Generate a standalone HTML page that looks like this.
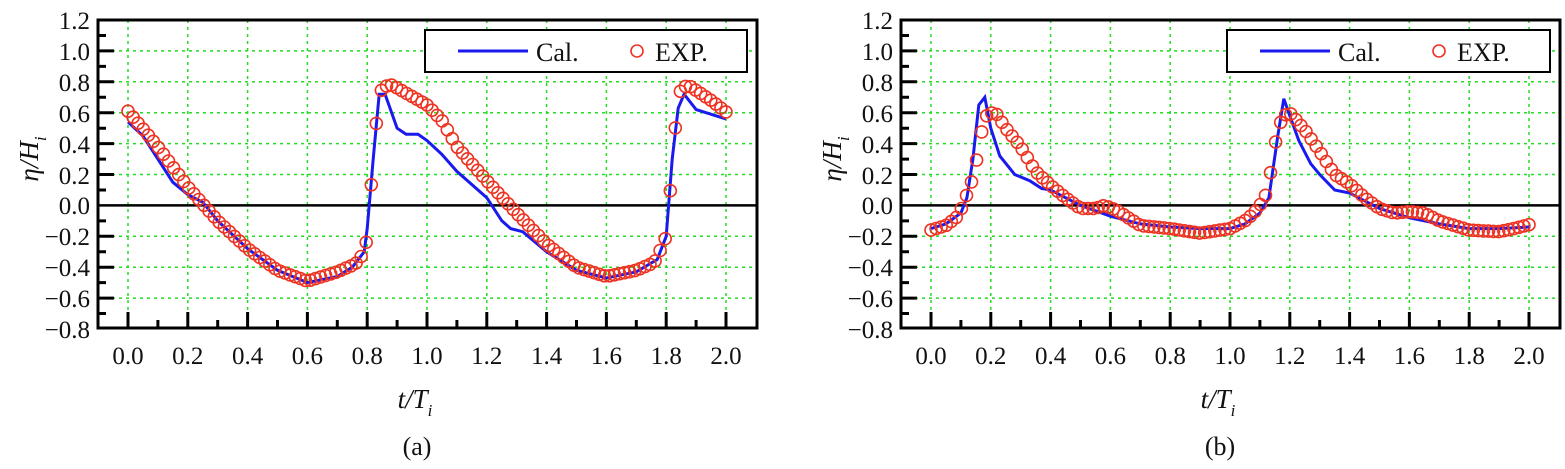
<!DOCTYPE html>
<html><head><meta charset="utf-8"><style>
html,body{margin:0;padding:0;background:#fff;width:1565px;height:469px;overflow:hidden}
text{font-family:"Liberation Serif","DejaVu Serif",serif;fill:#111}
.t{font-size:25px}
.l{font-size:26px}
.i{font-size:27px;font-style:italic}
</style></head><body>
<svg width="1565" height="469" xmlns="http://www.w3.org/2000/svg">
<defs>
<g id="ax">
<g stroke="#22dd22" stroke-width="1.5" stroke-dasharray="3,4">
<path d="M98 50.9H757M98 81.8H757M98 112.7H757M98 143.6H757M98 174.5H757M98 236.3H757M98 267.2H757M98 298.1H757"/>
<path d="M128 20V310M187.8 20V310M247.6 20V310M307.4 20V310M367.2 20V310M427 20V310M486.8 20V310M546.6 20V310M606.4 20V310M666.2 20V310M726 20V310"/>
</g>
<path d="M98 205.4H757" stroke="#000" stroke-width="2.5"/>
<path stroke="#000" stroke-width="3" d="M98 313.5h8M98 298.1h16M98 282.6h8M98 267.2h16M98 251.7h8M98 236.3h16M98 220.9h8M98 190h8M98 174.5h16M98 159.1h8M98 143.6h16M98 128.2h8M98 112.7h16M98 97.3h8M98 81.8h16M98 66.4h8M98 50.9h16M98 35.5h8
M128 328v-16M157.9 328v-8M187.8 328v-16M217.7 328v-8M247.6 328v-16M277.5 328v-8M307.4 328v-16M337.3 328v-8M367.2 328v-16M397.1 328v-8M427 328v-16M456.9 328v-8M486.8 328v-16M516.7 328v-8M546.6 328v-16M576.5 328v-8M606.4 328v-16M636.3 328v-8M666.2 328v-16M696.1 328v-8M726 328v-16"/>
<rect x="98" y="20" width="659" height="308" fill="none" stroke="#000" stroke-width="3"/>
</g>
</defs>
<use href="#ax"/>
<use href="#ax" transform="translate(803,0)"/>
<g id="series"></g>
<!-- legends -->
<rect x="425" y="30" width="322" height="42" fill="#fff" stroke="#000" stroke-width="2"/>
<line x1="458" x2="528" y1="51" y2="51" stroke="#1a1aee" stroke-width="3"/>
<circle cx="637" cy="51" r="6" fill="none" stroke="#ee3322" stroke-width="1.6"/>
<text class="l" x="536" y="61">Cal.</text>
<text class="l" x="655" y="61">EXP.</text>
<rect x="1227" y="30" width="323" height="42" fill="#fff" stroke="#000" stroke-width="2"/>
<line x1="1260" x2="1330" y1="51" y2="51" stroke="#1a1aee" stroke-width="3"/>
<circle cx="1439" cy="51" r="6" fill="none" stroke="#ee3322" stroke-width="1.6"/>
<text class="l" x="1338" y="61">Cal.</text>
<text class="l" x="1457" y="61">EXP.</text>
<!-- y labels a -->
<g class="t" text-anchor="end">
<text class="t" x="90" y="29">1.2</text><text class="t" x="90" y="60">1.0</text><text class="t" x="90" y="91">0.8</text><text class="t" x="90" y="122">0.6</text><text class="t" x="90" y="153">0.4</text><text class="t" x="90" y="184">0.2</text><text class="t" x="90" y="214">0.0</text><text class="t" x="90" y="245">−0.2</text><text class="t" x="90" y="276">−0.4</text><text class="t" x="90" y="307">−0.6</text><text class="t" x="90" y="338">−0.8</text>
<text class="t" x="893" y="29">1.2</text><text class="t" x="893" y="60">1.0</text><text class="t" x="893" y="91">0.8</text><text class="t" x="893" y="122">0.6</text><text class="t" x="893" y="153">0.4</text><text class="t" x="893" y="184">0.2</text><text class="t" x="893" y="214">0.0</text><text class="t" x="893" y="245">−0.2</text><text class="t" x="893" y="276">−0.4</text><text class="t" x="893" y="307">−0.6</text><text class="t" x="893" y="338">−0.8</text>
</g>
<g text-anchor="middle">
<text class="t" x="128" y="364">0.0</text><text class="t" x="187.8" y="364">0.2</text><text class="t" x="247.6" y="364">0.4</text><text class="t" x="307.4" y="364">0.6</text><text class="t" x="367.2" y="364">0.8</text><text class="t" x="427" y="364">1.0</text><text class="t" x="486.8" y="364">1.2</text><text class="t" x="546.6" y="364">1.4</text><text class="t" x="606.4" y="364">1.6</text><text class="t" x="666.2" y="364">1.8</text><text class="t" x="726" y="364">2.0</text>
<text class="t" x="931" y="364">0.0</text><text class="t" x="990.8" y="364">0.2</text><text class="t" x="1050.6" y="364">0.4</text><text class="t" x="1110.4" y="364">0.6</text><text class="t" x="1170.2" y="364">0.8</text><text class="t" x="1230" y="364">1.0</text><text class="t" x="1289.8" y="364">1.2</text><text class="t" x="1349.6" y="364">1.4</text><text class="t" x="1409.4" y="364">1.6</text><text class="t" x="1469.2" y="364">1.8</text><text class="t" x="1529" y="364">2.0</text>
<text class="i" x="415" y="408">t/T<tspan style="font-size:17px" dy="8">i</tspan></text>
<text class="i" x="1218" y="408">t/T<tspan style="font-size:17px" dy="8">i</tspan></text>
<text class="l" x="417" y="455">(a)</text>
<text class="l" x="1220" y="455">(b)</text>
<text class="i" transform="translate(38,159) rotate(-90)">η/H<tspan style="font-size:17px" dy="8">i</tspan></text>
<text class="i" transform="translate(841,159) rotate(-90)">η/H<tspan style="font-size:17px" dy="8">i</tspan></text>
</g>
</svg>
<script>
let h='';
function panel(x0,calc,exp){
 const X=t=>x0+t*299;const Y=v=>205.4-v*154.5;
 h+=`<polyline fill="none" stroke="#1a1aee" stroke-width="3" points="${calc.map(p=>X(p[0]).toFixed(1)+','+Y(p[1]).toFixed(1)).join(' ')}"/>`;
 const f=t=>{for(let i=0;i<exp.length-1;i++){if(t<=exp[i+1][0]){const a=exp[i],b=exp[i+1];return a[1]+(b[1]-a[1])*(t-a[0])/(b[0]-a[0]);}}return exp[exp.length-1][1];};
 const end=exp[exp.length-1][0];
 for(let t=0;t<=end+1e-6;t+=1/59){h+=`<circle cx="${X(t).toFixed(1)}" cy="${Y(f(t)).toFixed(1)}" r="6" fill="none" stroke="#ee3322" stroke-width="1.6"/>`;}
}
panel(128,
[[0,0.54],[0.05,0.45],[0.1,0.3],[0.15,0.15],[0.2,0.07],[0.25,0.02],[0.3,-0.1],[0.4,-0.28],[0.5,-0.42],[0.6,-0.5],[0.7,-0.46],[0.75,-0.4],[0.79,-0.3],[0.8,-0.15],[0.82,0.3],[0.84,0.72],[0.86,0.72],[0.9,0.5],[0.93,0.46],[0.97,0.46],[1.0,0.42],[1.05,0.33],[1.1,0.22],[1.2,0.05],[1.25,-0.1],[1.28,-0.15],[1.32,-0.17],[1.4,-0.3],[1.5,-0.42],[1.6,-0.47],[1.7,-0.43],[1.77,-0.35],[1.8,-0.2],[1.82,0.3],[1.84,0.63],[1.86,0.72],[1.9,0.62],[2.0,0.56]],
[[0,0.61],[0.1,0.38],[0.2,0.12],[0.3,-0.1],[0.4,-0.28],[0.5,-0.42],[0.6,-0.49],[0.7,-0.43],[0.76,-0.38],[0.78,-0.33],[0.8,-0.22],[0.81,0.05],[0.83,0.52],[0.84,0.73],[0.86,0.77],[0.88,0.78],[0.9,0.76],[1.0,0.65],[1.05,0.55],[1.1,0.38],[1.2,0.16],[1.3,-0.05],[1.4,-0.25],[1.5,-0.4],[1.6,-0.46],[1.7,-0.42],[1.76,-0.37],[1.78,-0.29],[1.8,-0.2],[1.81,0.01],[1.83,0.49],[1.84,0.72],[1.86,0.77],[1.88,0.77],[1.95,0.68],[2.01,0.59]]);
panel(931,
[[0,-0.15],[0.05,-0.12],[0.1,-0.05],[0.12,0.05],[0.14,0.3],[0.16,0.65],[0.18,0.7],[0.2,0.5],[0.23,0.32],[0.28,0.2],[0.33,0.16],[0.37,0.11],[0.4,0.1],[0.45,0.05],[0.5,0],[0.6,-0.07],[0.7,-0.12],[0.8,-0.14],[0.9,-0.15],[1.0,-0.15],[1.05,-0.12],[1.1,-0.05],[1.13,0.05],[1.16,0.45],[1.18,0.69],[1.2,0.58],[1.23,0.42],[1.27,0.27],[1.3,0.2],[1.35,0.1],[1.4,0.08],[1.45,0.03],[1.5,-0.02],[1.6,-0.08],[1.7,-0.12],[1.8,-0.15],[1.9,-0.15],[2.0,-0.14]],
[[0,-0.16],[0.05,-0.13],[0.09,-0.07],[0.1,-0.03],[0.11,0.03],[0.13,0.11],[0.15,0.26],[0.16,0.39],[0.18,0.57],[0.2,0.6],[0.22,0.59],[0.25,0.5],[0.3,0.38],[0.35,0.22],[0.4,0.13],[0.45,0.05],[0.5,-0.02],[0.55,-0.02],[0.58,0],[0.62,-0.03],[0.7,-0.13],[0.8,-0.15],[0.9,-0.18],[1.0,-0.15],[1.05,-0.1],[1.08,-0.05],[1.1,0.0],[1.12,0.07],[1.13,0.15],[1.14,0.26],[1.16,0.5],[1.18,0.58],[1.2,0.6],[1.25,0.49],[1.3,0.35],[1.35,0.2],[1.4,0.14],[1.45,0.05],[1.5,-0.02],[1.55,-0.05],[1.6,-0.04],[1.65,-0.05],[1.7,-0.1],[1.8,-0.16],[1.9,-0.17],[1.95,-0.15],[2.01,-0.12]]);
document.getElementById('series').innerHTML=h;
</script>
</body></html>
